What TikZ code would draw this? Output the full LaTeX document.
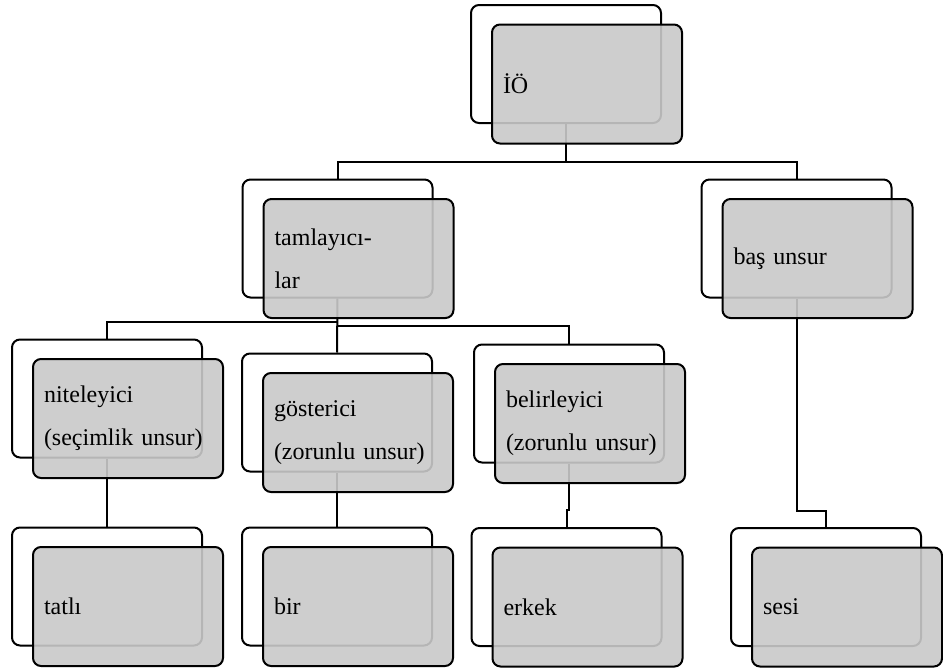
\documentclass[tikz,border=0pt]{standalone}
\usepackage{fontspec}
\setmainfont{Liberation Serif}
\tikzset{
  backbox/.style={draw, line width=1pt, rounded corners=4pt, fill=white,
    minimum width=95pt, minimum height=59pt, inner sep=0pt},
  frontbox/.style={draw, line width=1pt, rounded corners=4pt, fill=black!21,
    fill opacity=0.9, text opacity=1, minimum height=59.5pt, text width=84pt,
    inner xsep=5.5pt, inner ysep=0pt, align=left,
    font=\fontsize{12}{21.5}\selectfont},
  link/.style={line width=1pt}
}
\begin{document}
\begin{tikzpicture}[x=0.5pt, y=-0.5pt]
\useasboundingbox (0,0) rectangle (943,669);
% white boxes behind
\foreach \n/\p in {io/{566,64}, tam/{337.5,238.5}, bas/{796.5,238.5},
  nit/{107,398.5}, gos/{337,412.5}, bel/{569,403.5},
  tat/{107,586.5}, bir/{337,586.5}, erk/{566.5,587}, ses/{826,587}}
{
	\node[backbox] (\n) at (\p) {};
}
% connectors
\coordinate (j1) at (566,162);
\coordinate (j2) at (337,322);
\coordinate (j3) at (337,326);
\draw[link] (io.south) -- (j1);
\draw[link] (tam.north) |- (j1) -| (bas.north);
\draw[link] (tam.south) -- (gos.north);
\draw[link] (nit.north) |- (j2);
\draw[link] (j3) -| (bel.north);
\draw[link] (nit.south) -- (tat.north);
\draw[link] (gos.south) -- (bir.north);
\draw[link] (bel.south) -- ++(0,46) -| (erk.north);
\draw[link] (bas.south) -- ++(0,212) -| (ses.north);
% gray boxes in front
\foreach \n/\t in {io/İÖ, tam/{tamlayıcı-\\lar}, bas/baş unsur,
  nit/{niteleyici\\(seçimlik unsur)}, gos/{gösterici\\(zorunlu unsur)},
  bel/{belirleyici\\(zorunlu unsur)},
  tat/tatlı, bir/bir, erk/erkek, ses/sesi}
{
	\node[frontbox] (f\n) at ([shift={(21,20)}]\n.center) {\t};
}
\end{tikzpicture}
\end{document}
